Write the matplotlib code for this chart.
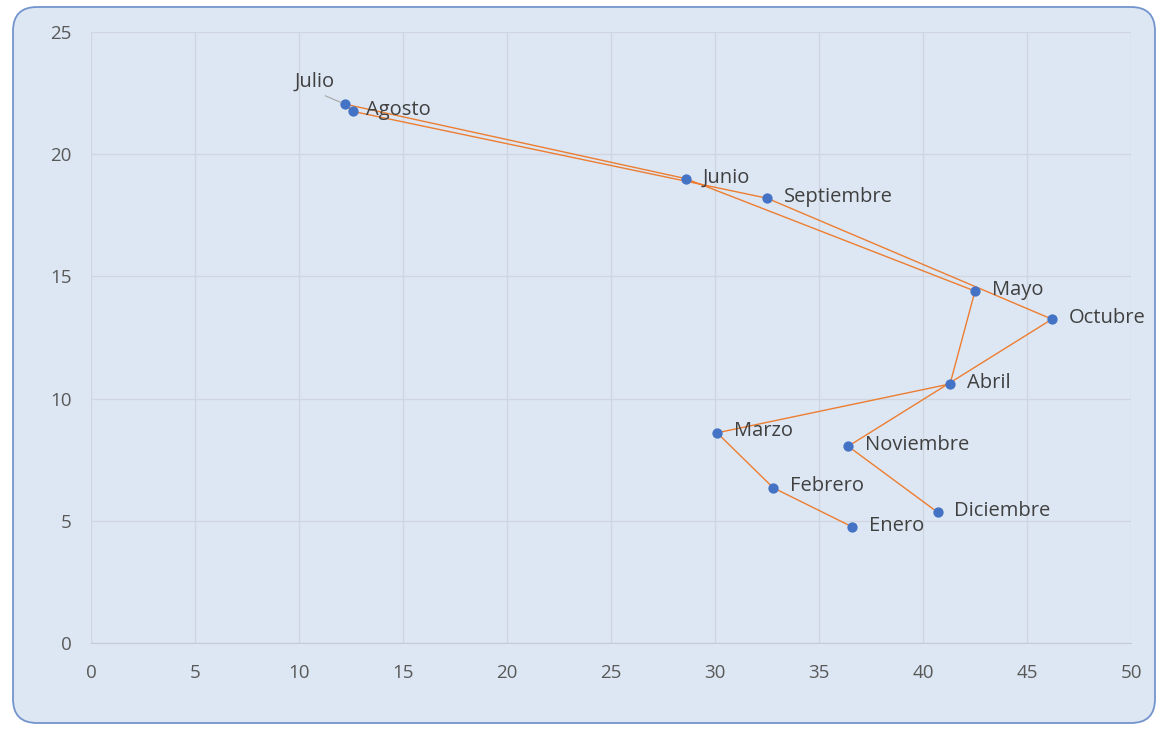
import matplotlib.pyplot as plt
from matplotlib.patches import FancyBboxPatch

# monthly coordinates, in calendar order
meses = ["Enero", "Febrero", "Marzo", "Abril", "Mayo", "Junio", "Julio",
         "Agosto", "Septiembre", "Octubre", "Noviembre", "Diciembre"]
valores_x = [36.6, 32.8, 30.1, 41.3, 42.5, 28.6, 12.2, 12.6, 32.5, 46.2, 36.4, 40.7]
valores_y = [4.75, 6.35, 8.6, 10.6, 14.4, 19.0, 22.05, 21.75, 18.2, 13.25, 8.05, 5.35]
ticks_x = [0, 5, 10, 15, 20, 25, 30, 35, 40, 45, 50]
ticks_y = [0, 5, 10, 15, 20, 25]

fondo = "#dde7f3"
texto = "#404040"

fig = plt.figure(figsize=(11.6, 7.29), dpi=100)
fig.patch.set_facecolor("white")

# rounded chart-area frame drawn in pixel coordinates, behind the axes
marco = FancyBboxPatch((13, 6), 1142, 716, boxstyle="round,pad=0,rounding_size=24",
                       transform=None, facecolor=fondo, edgecolor="#7394cc",
                       linewidth=1.3, zorder=-10)
fig.patches.append(marco)

ax = fig.add_axes([91 / 1160, (729 - 643) / 729, 1040 / 1160, 611 / 729])
ax.set_facecolor("none")
ax.set_xlim(0, 50)
ax.set_ylim(0, 25)
ax.set_xticks(ticks_x)
ax.set_yticks(ticks_y)
ax.grid(True, color="#cfd6df", linewidth=1.0)
ax.set_axisbelow(True)
for side in ("top", "right", "left"):
    ax.spines[side].set_visible(False)
ax.spines["bottom"].set_color("#c4cbd4")
ax.tick_params(length=0, labelsize=13.5, labelcolor="#595959")
ax.tick_params(axis="x", pad=15)
ax.tick_params(axis="y", pad=14)
for lbl in ax.get_xticklabels() + ax.get_yticklabels():
    lbl.set_fontfamily("Open Sans")

ax.plot(valores_x, valores_y, color="#ed7d31", linewidth=1.0, zorder=2)
ax.scatter(valores_x, valores_y, s=55, color="#4472c4", zorder=3, linewidths=0)

for nombre, vx, vy in zip(meses, valores_x, valores_y):
    if nombre == "Julio":
        ax.annotate(nombre, (vx, vy), xytext=(-22, 16), textcoords="offset points",
                    fontsize=14.5, color=texto, family="Open Sans",
                    ha="center", va="center",
                    arrowprops=dict(arrowstyle="-", color="#a6a6a6", lw=0.8,
                                    relpos=(0.55, 0.0), shrinkA=2, shrinkB=3))
    else:
        dx = 9 if nombre == "Agosto" else 12
        ax.annotate(nombre, (vx, vy), xytext=(dx, 1), textcoords="offset points",
                    fontsize=14.5, color=texto, family="Open Sans", va="center")

fig.savefig("out.png", dpi=100)
